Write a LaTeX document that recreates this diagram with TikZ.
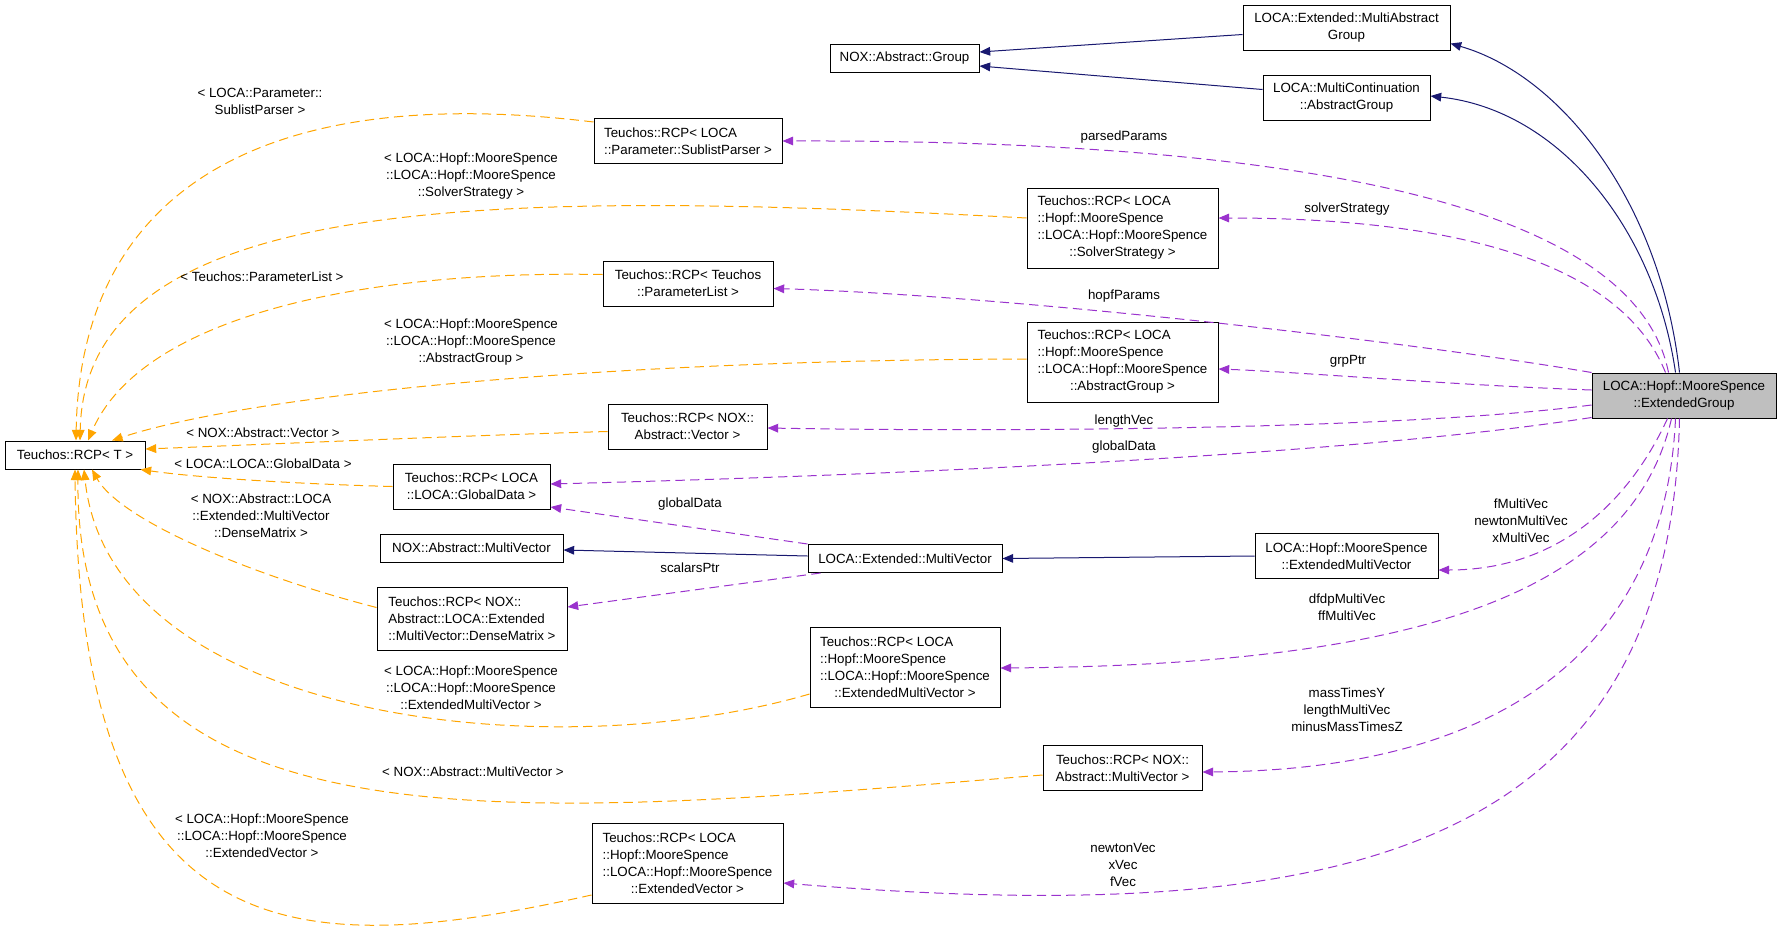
\documentclass[tikz,border=0pt]{standalone}
\usepackage{fontspec}
\setmainfont{Liberation Sans}
\usetikzlibrary{arrows.meta}

\definecolor{inhblue}{HTML}{191970}
\definecolor{usepurple}{HTML}{9A32CD}
\definecolor{tmplorange}{HTML}{FFA500}
\definecolor{maingray}{HTML}{BFBFBF}

\newcommand{\midline}[1]{\hfill#1\hfill\mbox{}}

\tikzset{
  cls/.style={draw=black, line width=0.75pt, inner sep=0pt, align=center,
    font=\fontsize{10}{12.75}\selectfont},
  lft/.style={cls, align=left},
  h1/.style={minimum height=21pt},
  h2/.style={minimum height=33.75pt},
  h3/.style={minimum height=47.25pt},
  h4/.style={minimum height=60pt},
  lbl/.style={inner sep=0pt, align=center, font=\fontsize{10}{12.75}\selectfont},
  inh/.style={draw=inhblue, line width=0.75pt, ->},
  mem/.style={draw=usepurple, line width=0.75pt, dash pattern=on 7pt off 4pt, ->},
  tmpl/.style={draw=tmplorange, line width=0.75pt, dash pattern=on 7pt off 4pt, ->}
}

\begin{document}
\begin{tikzpicture}[x=0.75pt, y=-0.75pt, >={Triangle[length=8pt,width=6.5pt]}]
\useasboundingbox (0,0) rectangle (1781,932);

\node[cls, h2, minimum width=155.25pt] (MAG) at (1346.5,27.5) {LOCA::Extended::MultiAbstract\\Group};
\node[cls, h1, minimum width=111.75pt] (NAG) at (904.5,58) {NOX::Abstract::Group};
\node[cls, h2, minimum width=125.25pt] (MCAG) at (1346.5,97.5) {LOCA::MultiContinuation\\::AbstractGroup};
\node[lft, h2, minimum width=141pt] (SLP) at (688,141) {Teuchos::RCP< LOCA\\::Parameter::SublistParser >};
\node[lft, h4, minimum width=143.25pt] (SS) at (1122.5,228) {Teuchos::RCP< LOCA\\::Hopf::MooreSpence\\::LOCA::Hopf::MooreSpence\\\midline{::SolverStrategy >}};
\node[cls, h2, minimum width=127.5pt] (PL) at (688,283.5) {Teuchos::RCP< Teuchos\\::ParameterList >};
\node[lft, h4, minimum width=143.25pt] (AGR) at (1122.5,362) {Teuchos::RCP< LOCA\\::Hopf::MooreSpence\\::LOCA::Hopf::MooreSpence\\\midline{::AbstractGroup >}};
\node[cls, h2, fill=maingray, minimum width=138pt] (EG) at (1684,395.5) {LOCA::Hopf::MooreSpence\\::ExtendedGroup};
\node[cls, h2, minimum width=119.25pt] (NAV) at (687.5,426.5) {Teuchos::RCP< NOX::\\Abstract::Vector >};
\node[cls, h1, minimum width=105pt] (RCPT) at (75,455) {Teuchos::RCP< T >};
\node[cls, h2, minimum width=117.75pt] (GD) at (471.5,486.5) {Teuchos::RCP< LOCA\\::LOCA::GlobalData >};
\node[cls, h1, minimum width=137.25pt] (NAMV) at (471.5,548) {NOX::Abstract::MultiVector};
\node[cls, h1, minimum width=145.5pt] (LEMV) at (905,558.5) {LOCA::Extended::MultiVector};
\node[cls, h2, minimum width=137.25pt] (HEMV) at (1346.5,556) {LOCA::Hopf::MooreSpence\\::ExtendedMultiVector};
\node[lft, h3, minimum width=142.5pt] (DM) at (472,618.5) {Teuchos::RCP< NOX::\\Abstract::LOCA::Extended\\::MultiVector::DenseMatrix >};
\node[lft, h4, minimum width=142.5pt] (EMVR) at (905,667) {Teuchos::RCP< LOCA\\::Hopf::MooreSpence\\::LOCA::Hopf::MooreSpence\\\midline{::ExtendedMultiVector >}};
\node[cls, h2, minimum width=119.25pt] (NAMVR) at (1122.5,768) {Teuchos::RCP< NOX::\\Abstract::MultiVector >};
\node[lft, h4, minimum width=143.25pt] (EVR) at (687.5,863) {Teuchos::RCP< LOCA\\::Hopf::MooreSpence\\::LOCA::Hopf::MooreSpence\\\midline{::ExtendedVector >}};

\draw[inh] ([shift={(0,7)}]MAG.west) -- ([shift={(0,-6)}]NAG.east);
\draw[inh] ([shift={(0,-8)}]MCAG.west) -- ([shift={(0,8)}]NAG.east);
\draw[inh] ([shift={(88,0)}]EG.north west) .. controls (1660,200) and (1560,75) .. ([shift={(0,16)}]MAG.east);
\draw[inh] ([shift={(84,0)}]EG.north west) .. controls (1655,230) and (1560,110) .. ([shift={(0,-1.5)}]MCAG.east);
\draw[inh] ([shift={(0,-2.5)}]LEMV.west) -- ([shift={(0,2)}]NAMV.east);
\draw[inh] (HEMV.west) -- (LEMV.east);

\draw[mem] ([shift={(77,0)}]EG.north west) .. controls (1630,180) and (1200,140) .. (SLP.east);
\draw[mem] ([shift={(74,0)}]EG.north west) .. controls (1620,260) and (1450,218) .. ([shift={(0,-10)}]SS.east);
\draw[mem] (EG.north west) .. controls (1400,340) and (1000,295) .. ([shift={(0,5)}]PL.east);
\draw[mem] ([shift={(0,-5.5)}]EG.west) .. controls (1450,385) and (1300,372) .. ([shift={(0,7)}]AGR.east);
\draw[mem] ([shift={(0,9.5)}]EG.west) .. controls (1400,430) and (1000,432) .. ([shift={(0,1.5)}]NAV.east);
\draw[mem] ([shift={(0,-1)}]EG.south west) .. controls (1350,455) and (900,475) .. ([shift={(0,-2.5)}]GD.east);
\draw[mem] (LEMV.north west) -- ([shift={(0,20.5)}]GD.east);
\draw[mem] ([shift={(13,0)}]LEMV.south west) -- ([shift={(0,-11.5)}]DM.east);
\draw[mem] ([shift={(76,0)}]EG.south west) .. controls (1630,500) and (1560,570) .. ([shift={(0,14)}]HEMV.east);
\draw[mem] ([shift={(80,0)}]EG.south west) .. controls (1630,600) and (1400,665) .. ([shift={(0,1)}]EMVR.east);
\draw[mem] ([shift={(84,0)}]EG.south west) .. controls (1665,650) and (1500,770) .. ([shift={(0,4)}]NAMVR.east);
\draw[mem] ([shift={(88,0)}]EG.south west) .. controls (1670,850) and (1350,930) .. ([shift={(0,20)}]EVR.east);

\draw[tmpl] ([shift={(0,4)}]SLP.north west) .. controls (250,80) and (80,200) .. ([shift={(1,0)}]RCPT.north);
\draw[tmpl] ([shift={(0,-10)}]SS.west) .. controls (500,190) and (85,190) .. ([shift={(5,0)}]RCPT.north);
\draw[tmpl] ([shift={(0,-9)}]PL.west) .. controls (350,270) and (140,320) .. ([shift={(13,0)}]RCPT.north);
\draw[tmpl] ([shift={(0,-3)}]AGR.west) .. controls (600,360) and (250,395) .. ([shift={(37,0)}]RCPT.north);
\draw[tmpl] ([shift={(0,5)}]NAV.west) .. controls (450,436) and (250,445) .. ([shift={(0,-6)}]RCPT.east);
\draw[tmpl] (GD.west) .. controls (300,484) and (200,478) .. ([shift={(-5,0)}]RCPT.south east);
\draw[tmpl] ([shift={(0,-11)}]DM.west) .. controls (250,575) and (120,520) .. ([shift={(17,0)}]RCPT.south);
\draw[tmpl] ([shift={(0,27)}]EMVR.west) .. controls (550,770) and (110,720) .. ([shift={(9,0)}]RCPT.south);
\draw[tmpl] ([shift={(0,7)}]NAMVR.west) .. controls (500,820) and (75,860) .. ([shift={(3,0)}]RCPT.south);
\draw[tmpl] ([shift={(0,32)}]EVR.west) .. controls (300,960) and (80,960) .. (RCPT.south);

\node[lbl] (lparsed) at (1124,137) {parsedParams};
\node[lbl] (lsolver) at (1347,209) {solverStrategy};
\node[lbl] (lhopf) at (1124,296) {hopfParams};
\node[lbl] (lgrp) at (1348,361) {grpPtr};
\node[lbl] (llength) at (1124,421) {lengthVec};
\node[lbl] (lglobal) at (1124,447) {globalData};
\node[lbl] (lglobalb) at (690,504) {globalData};
\node[lbl] (lscalars) at (690,568) {scalarsPtr};
\node[lbl] (lmulti) at (1521,521) {fMultiVec\\newtonMultiVec\\xMultiVec};
\node[lbl] (ldfdp) at (1347,607) {dfdpMultiVec\\ffMultiVec};
\node[lbl] (lmass) at (1347,710) {massTimesY\\lengthMultiVec\\minusMassTimesZ};
\node[lbl] (lnewton) at (1123,865) {newtonVec\\xVec\\fVec};

\node[lbl] (tslp) at (260,101) {< LOCA::Parameter::\\SublistParser >};
\node[lbl] (tss) at (471,176) {< LOCA::Hopf::MooreSpence\\::LOCA::Hopf::MooreSpence\\::SolverStrategy >};
\node[lbl] (tpl) at (262,277) {< Teuchos::ParameterList >};
\node[lbl] (tagr) at (471,342) {< LOCA::Hopf::MooreSpence\\::LOCA::Hopf::MooreSpence\\::AbstractGroup >};
\node[lbl] (tnav) at (263,433) {< NOX::Abstract::Vector >};
\node[lbl] (tgd) at (263,464) {< LOCA::LOCA::GlobalData >};
\node[lbl] (tdm) at (261,516) {< NOX::Abstract::LOCA\\::Extended::MultiVector\\::DenseMatrix >};
\node[lbl] (temv) at (471,688) {< LOCA::Hopf::MooreSpence\\::LOCA::Hopf::MooreSpence\\::ExtendedMultiVector >};
\node[lbl] (tnamv) at (473,772) {< NOX::Abstract::MultiVector >};
\node[lbl] (tevr) at (262,836) {< LOCA::Hopf::MooreSpence\\::LOCA::Hopf::MooreSpence\\::ExtendedVector >};
\end{tikzpicture}
\end{document}
